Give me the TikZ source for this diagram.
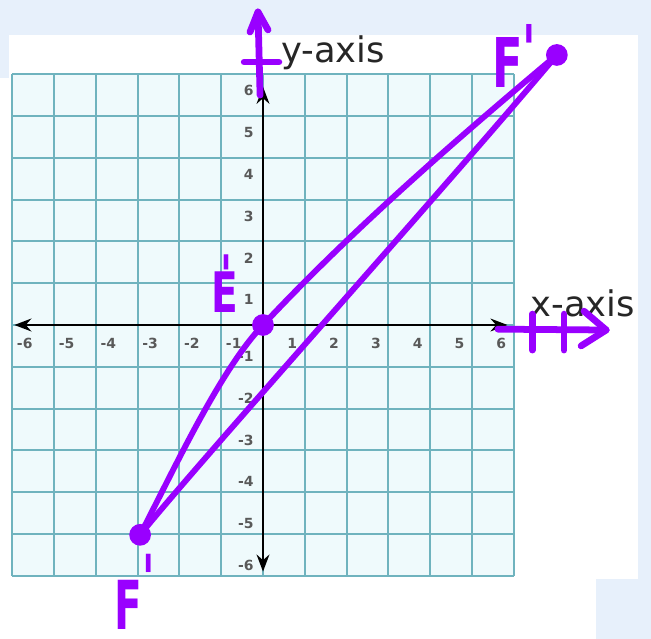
\documentclass[tikz,border=0pt]{standalone}
\usepackage{fontspec}
\usepackage{graphicx}
\setmainfont{DejaVu Sans}
\newfontfamily\penfont{DejaVu Sans}
\usetikzlibrary{arrows.meta}
\definecolor{penpurple}{RGB}{153,0,255}
\definecolor{pagebg}{HTML}{E7F0FB}
\definecolor{gridline}{HTML}{6FB3BE}
\definecolor{gridfill}{HTML}{EFFAFC}

\begin{document}
\begin{tikzpicture}[>=Stealth,
    pen/.style={penpurple, line width=4.6pt, line cap=round, line join=round},
    ticklbl/.style={font=\fontsize{9.5}{10}\selectfont\bfseries, text=black!65, inner sep=0pt},
    axislbl/.style={font=\fontsize{24}{24}\selectfont, text=black!85, inner sep=0pt, anchor=base west},
    penlbl/.style={text=penpurple, font=\penfont\bfseries, inner sep=0pt, text depth=0pt, anchor=base west}]

	% 0. Page background (white sheet on light blue)
	\useasboundingbox (-6.292,-7.512) rectangle (9.282,7.775);
	\fill[pagebg] (-6.292,-7.512) rectangle (9.282,7.775);
	\fill[white] (-6.077,-6.077) rectangle (8.971,6.938);
	\fill[white] (-6.292,-7.512) rectangle (7.967,5.909);

	% 1. Graph paper
	\fill[gridfill] (-6,-6) rectangle (6,6);
	\draw[gridline, line width=1.3pt] (-6,-6) grid (6,6);

	% 2. Axes
	\draw[<->, line width=1.9pt] (-5.95,0) -- (5.85,0);
	\draw[<->, line width=1.9pt] (0,5.7) -- (0,-5.9);

	% 3. Tick labels
	\foreach \k in {1,...,6} {
		\node[ticklbl] at (\k-0.3,-0.45) {\k};
		\node[ticklbl] at (-\k+0.3,-0.45) {-\k};
		\node[ticklbl, anchor=east] at (-0.22,\k-0.4) {\k};
		\node[ticklbl, anchor=east] at (-0.22,-\k+0.25) {-\k};
	}

	% 4. Axis names
	\node[axislbl] (ylbl) at (0.43,6.29) {y-axis};
	\node[axislbl] (xlbl) at (6.39,0.215) {x-axis};

	% 5. Pen marks on the axes
	% up arrow with a tick
	\coordinate (ytail) at (-0.07,5.5);
	\coordinate (ytip) at (-0.12,7.49);
	\draw[pen] (ytail) -- (ytip);
	\draw[pen] (-0.31,7.01) -- (ytip) -- (0.12,7.06);
	\draw[pen] (-0.45,6.29) -- (0.38,6.29);
	% right arrow with two ticks
	\coordinate (xtail) at (5.62,-0.1);
	\coordinate (xtip) at (8.21,-0.12);
	\draw[pen] (xtail) -- (xtip);
	\draw[pen] (7.68,0.33) -- (xtip) -- (7.61,-0.5);
	\draw[pen] (6.44,0.26) -- (6.44,-0.6);
	\draw[pen] (7.2,0.26) -- (7.2,-0.6);

	% 6. Points E' and F' and the two curves
	\coordinate (E) at (0,0);
	\coordinate (Flow) at (-2.94,-5.02);
	\coordinate (Fhigh) at (7.03,6.46);
	\draw[pen, line width=4pt] (Flow) .. controls (-2.04,-3.27) and (-1.0,-1.05) .. (E)
		.. controls (2.2,2.35) and (4.7,4.5) .. (Fhigh);
	\draw[pen, line width=4pt] (Flow) .. controls (-1.6,-3.35) and (4.2,3.1) .. (Fhigh);
	\foreach \p in {E,Flow,Fhigh}
		\fill[penpurple] (\p) circle (0.26);

	% 7. Handwritten names
	\node[penlbl] (Elbl) at (-1.24,0.31)
		{\fontsize{38}{38}\selectfont\scalebox{0.7}[1]{E\kern-0.46em\raisebox{0.3em}{\textquotesingle}}};
	\node[penlbl] (Fhighlbl) at (5.48,5.67)
		{\fontsize{46.7}{47}\selectfont\scalebox{0.65}[1]{F\raisebox{0.2em}{\textquotesingle}}};
	\node[penlbl] (Flowlbl) at (-3.56,-7.28)
		{\fontsize{46}{46}\selectfont\scalebox{0.6}[1]{F\raisebox{0.38em}{\textquotesingle}}};
\end{tikzpicture}
\end{document}
